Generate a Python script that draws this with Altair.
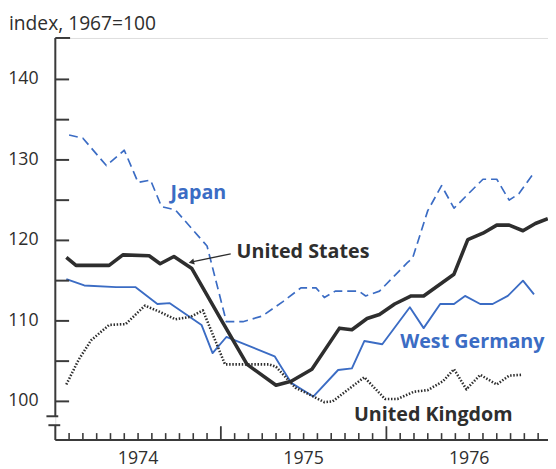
import altair as alt
import pandas as pd

# x = months since 1 Jan 1974, y = index (1967=100)
japan_m = [1.0, 2.0, 3.7, 5.0, 6.0, 6.9, 7.7, 8.7, 11.0, 12.4, 13.6, 15.0, 16.5, 17.8, 18.9, 19.5,
           20.3, 22.0, 22.5, 23.5, 25.5, 25.9, 27.0, 28.0, 28.9, 31.0, 32.0, 32.9, 33.6, 34.7]
japan_v = [133.1, 132.7, 129.3, 131.2, 127.2, 127.5, 124.2, 123.8, 119.3, 109.9, 109.9, 110.6, 112.4, 114.1, 114.1, 112.9,
           113.7, 113.7, 113.1, 113.7, 117.2, 117.8, 123.7, 126.8, 124.0, 127.6, 127.6, 125.0, 125.8, 128.4]

us_m = [0.8, 1.5, 3.9, 4.9, 6.8, 7.6, 8.6, 9.9, 12.1, 13.9, 16.0, 17.1, 18.6, 20.6, 21.5, 22.6, 23.5,
        24.6, 25.8, 26.7, 28.9, 29.9, 31.0, 32.0, 32.9, 33.9, 34.8, 35.7]
us_v = [117.9, 116.9, 116.9, 118.2, 118.1, 117.1, 118.0, 116.5, 109.9, 104.6, 102.0, 102.5, 104.0, 109.1, 108.9, 110.3, 110.8,
        112.1, 113.1, 113.1, 115.8, 120.1, 120.9, 121.9, 121.9, 121.2, 122.1, 122.7]

wg_m = [0.8, 2.1, 4.4, 5.8, 7.4, 8.3, 10.6, 11.4, 12.4, 15.9, 16.4, 17.1, 18.7, 20.5, 21.5, 22.4, 23.7,
        25.7, 26.7, 27.9, 28.9, 29.7, 30.8, 31.7, 32.8, 33.9, 34.7]
wg_v = [115.2, 114.4, 114.2, 114.2, 112.1, 112.2, 109.5, 106.0, 108.0, 105.6, 104.2, 102.3, 100.6, 103.9, 104.1, 107.5, 107.1,
        111.7, 109.1, 112.1, 112.1, 113.1, 112.1, 112.1, 113.1, 115.0, 113.3]

uk_m = [0.8, 1.7, 2.6, 3.9, 5.1, 6.5, 7.6, 8.7, 9.8, 10.7, 12.3, 15.5, 16.0, 17.4, 18.6, 19.5, 20.1,
        22.4, 23.9, 24.8, 26.0, 27.0, 28.1, 28.9, 29.8, 30.8, 32.0, 32.9, 33.8]
uk_v = [102.1, 105.2, 107.6, 109.5, 109.6, 111.9, 111.1, 110.2, 110.5, 111.3, 104.6, 104.6, 104.3, 101.7, 100.7, 99.9, 100.0,
        103.0, 100.3, 100.3, 101.2, 101.4, 102.5, 104.0, 101.5, 103.3, 102.1, 103.2, 103.3]

y_tick_values = [100, 105, 110, 115, 120, 125, 130, 135, 140]
y_label_values = [100, 110, 120, 130, 140]
years = ["1974", "1975", "1976"]
year_mid = [6, 18, 30]
month_ticks = [m for m in range(1, 36) if m not in (12, 24)]
year_ticks = [12, 24]

Y_TOP = 145.15
Y_BREAK1 = 98.15
Y_BREAK2 = 97.04

BLUE = "#3b6cc4"
DARK = "#2e2e2e"
AXIS = "#3a3a3a"
FONT = "Open Sans"

xs = alt.Scale(domain=[0, 500 / 14], nice=False, zero=False)
ys = alt.Scale(domain=[95.2, Y_TOP], nice=False, zero=False)


def series(m, v, **mark):
    df = pd.DataFrame({"m": m, "v": v})
    return alt.Chart(df).mark_line(strokeJoin="round", clip=True, **mark).encode(
        x=alt.X("m:Q", scale=xs, axis=None),
        y=alt.Y("v:Q", scale=ys, axis=None),
    )


japan = series(japan_m, japan_v, color=BLUE, strokeWidth=1.7, strokeDash=[9, 5])
wg = series(wg_m, wg_v, color=BLUE, strokeWidth=1.9)
uk = series(uk_m, uk_v, color=DARK, strokeWidth=2.6, strokeDash=[1.5, 1.7], strokeCap="butt")
us = series(us_m, us_v, color=DARK, strokeWidth=3.6)

# y axis
yaxis = alt.Chart(pd.DataFrame({"a": [Y_BREAK1], "b": [Y_TOP]})).mark_rule(color=AXIS, strokeWidth=2).encode(
    x=alt.value(0), y=alt.Y("a:Q", scale=ys, axis=None), y2="b:Q")
ycap = alt.Chart(pd.DataFrame({"a": [Y_TOP]})).mark_rule(color=AXIS, strokeWidth=2).encode(
    x=alt.value(0), x2=alt.value(15), y=alt.Y("a:Q", scale=ys, axis=None))
yticks = alt.Chart(pd.DataFrame({"a": y_tick_values})).mark_rule(color=AXIS, strokeWidth=2).encode(
    x=alt.value(0), x2=alt.value(14), y=alt.Y("a:Q", scale=ys, axis=None))
ylabels = alt.Chart(pd.DataFrame({"a": y_label_values})).mark_text(
    align="right", baseline="middle", fontSize=18, font=FONT, color=DARK).encode(
    x=alt.value(-17), y=alt.Y("a:Q", scale=ys, axis=None), text="a:Q")
brk1 = alt.Chart(pd.DataFrame({"a": [Y_BREAK1]})).mark_rule(color=AXIS, strokeWidth=2).encode(
    x=alt.value(-9), x2=alt.value(3), y=alt.Y("a:Q", scale=ys, axis=None))
brk2 = alt.Chart(pd.DataFrame({"a": [Y_BREAK2]})).mark_rule(color=AXIS, strokeWidth=2).encode(
    x=alt.value(-7), x2=alt.value(5), y=alt.Y("a:Q", scale=ys, axis=None))
lowv = alt.Chart(pd.DataFrame({"a": [Y_BREAK2]})).mark_rule(color=AXIS, strokeWidth=2).encode(
    x=alt.value(0), y=alt.Y("a:Q", scale=ys, axis=None), y2=alt.value(408))

# x axis
xaxis = alt.Chart(pd.DataFrame({"a": [0]})).mark_rule(color=AXIS, strokeWidth=2).encode(
    x=alt.value(0), x2=alt.value(500), y=alt.value(408))
mticks = alt.Chart(pd.DataFrame({"m": month_ticks})).mark_rule(color=AXIS, strokeWidth=1.6).encode(
    x=alt.X("m:Q", scale=xs, axis=None), y=alt.value(408), y2=alt.value(401))
yrticks = alt.Chart(pd.DataFrame({"m": year_ticks})).mark_rule(color=AXIS, strokeWidth=1.8).encode(
    x=alt.X("m:Q", scale=xs, axis=None), y=alt.value(408), y2=alt.value(394))
ylab = alt.Chart(pd.DataFrame({"m": year_mid, "t": years})).mark_text(
    align="center", baseline="alphabetic", fontSize=18, font=FONT, color=DARK).encode(
    x=alt.X("m:Q", scale=xs, axis=None), y=alt.value(432), text="t:N")


def label(text, x, y, color):
    return alt.Chart(pd.DataFrame({"t": [text]})).mark_text(
        align="left", baseline="alphabetic", fontSize=20, fontWeight="bold", font=FONT, color=color).encode(
        x=alt.value(x), y=alt.value(y), text="t:N")


lab_japan = label("Japan", 117, 163, BLUE)
lab_us = label("United States", 184, 223, DARK)
lab_wg = label("West Germany", 350, 315, BLUE)
lab_uk = label("United Kingdom", 303, 389, DARK)

leader = alt.Chart(pd.DataFrame({"a": [0]})).mark_rule(color=DARK, strokeWidth=1.3).encode(
    x=alt.value(140), x2=alt.value(178), y=alt.value(227), y2=alt.value(219))
arrow = alt.Chart(pd.DataFrame({"a": [0]})).mark_point(
    shape="triangle", filled=True, color=DARK, size=40, angle=257, opacity=1).encode(
    x=alt.value(139), y=alt.value(227.3))

title = alt.Chart(pd.DataFrame({"t": ["index, 1967=100"]})).mark_text(
    align="left", baseline="alphabetic", fontSize=19.5, font=FONT, color=DARK).encode(
    x=alt.value(-47), y=alt.value(-8), text="t:N")

chart = alt.layer(
    japan, wg, uk, us,
    yaxis, ycap, yticks, ylabels, brk1, brk2, lowv,
    xaxis, mticks, yrticks, ylab,
    lab_japan, lab_us, lab_wg, lab_uk, leader, arrow, title,
).properties(
    width=500, height=408,
    autosize=alt.AutoSizeParams(type="none"),
    padding={"left": 48, "top": 27, "right": 0, "bottom": 26},
).configure_view(stroke=None).configure(background="white")

chart.save("out.html", embed_options={"renderer": "svg", "actions": False})
